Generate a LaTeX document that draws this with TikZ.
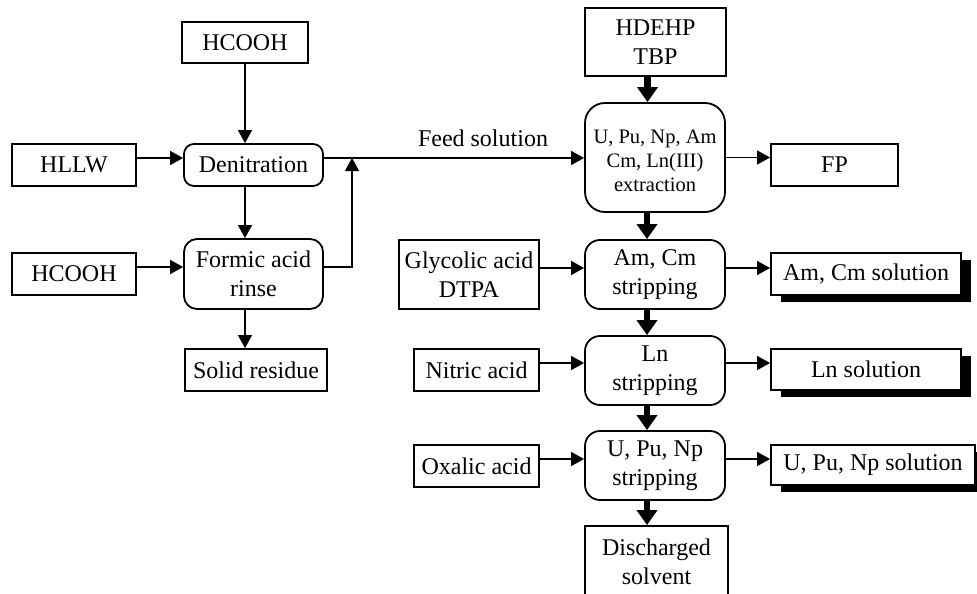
\documentclass[tikz,border=0pt]{standalone}
\usepackage{fontspec}
\setmainfont{Liberation Serif}
\usetikzlibrary{arrows.meta,shadows,calc}
\tikzset{
  box/.style={draw, line width=1.8pt, fill=white, inner sep=0pt, align=center, font=\fontsize{24}{29}\selectfont},
  rbox/.style={box, rounded corners=#1},
  sbox/.style={box, drop shadow={shadow xshift=10pt, shadow yshift=-7pt, fill=black, opacity=1}},
  arr/.style={line width=1.3pt, -{Triangle[width=14pt,length=13pt]}},
  bigarr/.style={line width=6.5pt, -{Triangle[width=20pt,length=15pt]}},
  lbl/.style={inner sep=0pt, font=\fontsize{24}{29}\selectfont}
}
\begin{document}
\begin{tikzpicture}[x=1pt,y=-1pt]
\useasboundingbox (0,0) rectangle (977,594);
\clip (0,0) rectangle (977,594);
% left column
\node[box, minimum width=126pt, minimum height=41pt] (hc1) at (245,42.5) {HCOOH};
\node[box, minimum width=124pt, minimum height=42pt] (hllw) at (74,165) {HLLW};
\node[rbox=10pt, minimum width=139pt, minimum height=42pt] (den) at (253.5,165) {Denitration};
\node[box, minimum width=124pt, minimum height=42pt] (hc2) at (74,274) {HCOOH};
\node[rbox=13pt, minimum width=139pt, minimum height=70pt] (fa) at (253.5,274) {Formic acid\\rinse};
\node[box, minimum width=142pt, minimum height=42pt] (sr) at (256,370) {Solid residue};
\coordinate (junc) at (352,158);
\node[lbl] (feed) at (483,138) {Feed solution};
% right column
\node[box, minimum width=141pt, minimum height=68pt] (hd) at (655.5,42) {HDEHP\\TBP};
\node[rbox=20pt, minimum width=140pt, minimum height=109pt, font=\fontsize{20.5}{24}\selectfont] (ex) at (655,157.5) {\raisebox{-5.5pt}[\height][\depth]{\begin{tabular}{@{}c@{}}U, Pu, Np, Am\\Cm, Ln(III)\\extraction\end{tabular}}};
\node[box, minimum width=127pt, minimum height=42pt] (fp) at (834.5,165) {FP};
\node[box, minimum width=140pt, minimum height=69pt] (gl) at (469,274.5) {Glycolic acid\\DTPA};
\node[rbox=15pt, minimum width=140pt, minimum height=69pt] (am) at (655,274.5) {Am, Cm\\stripping};
\node[sbox, minimum width=190pt, minimum height=42pt] (ams) at (866,274) {Am, Cm solution};
\node[box, minimum width=125pt, minimum height=42pt] (ni) at (476.5,370) {Nitric acid};
\node[rbox=15pt, minimum width=140pt, minimum height=69pt] (ln) at (655,370.5) {Ln\\stripping};
\node[sbox, minimum width=190pt, minimum height=41pt] (lns) at (866,369.5) {Ln solution};
\node[box, minimum width=125pt, minimum height=42pt] (ox) at (476.5,466) {Oxalic acid};
\node[rbox=15pt, minimum width=140pt, minimum height=69pt] (up) at (655,465.5) {U, Pu, Np\\stripping};
\node[sbox, minimum width=204pt, minimum height=40pt] (ups) at (873,465) {U, Pu, Np solution};
\node[box, minimum width=143pt, minimum height=72pt] (ds) at (656.5,562) {Discharged\\solvent};
% left column arrows
\draw[arr] (hc1.south) -- (hc1.south |- den.north);
\draw[arr] ([xshift=-8.5pt]den.south) -- ([xshift=-8.5pt]den.south |- fa.north);
\draw[arr] ([xshift=-8.5pt]fa.south) -- ([xshift=-8.5pt]fa.south |- sr.north);
\draw[arr] ([yshift=7pt]hllw.east) -- ([yshift=7pt]hllw.east -| den.west);
\draw[arr] ([yshift=7pt]hc2.east) -- ([yshift=7pt]hc2.east -| fa.west);
\draw[arr] ([yshift=7pt]den.east) -- ([yshift=7pt]den.east -| ex.west);
\draw[arr] ([yshift=7pt]fa.east) -| (junc);
% right column horizontal arrows
\draw[arr] (ex.east) -- (ex.east -| fp.west);
\draw[arr] ([yshift=6.5pt]gl.east) -- ([yshift=6.5pt]gl.east -| am.west);
\draw[arr] ([yshift=6.5pt]am.east) -- ([yshift=6.5pt]am.east -| ams.west);
\draw[arr] ([yshift=7pt]ni.east) -- ([yshift=7pt]ni.east -| ln.west);
\draw[arr] ([yshift=7.5pt]ln.east) -- ([yshift=7.5pt]ln.east -| lns.west);
\draw[arr] ([yshift=7pt]ox.east) -- ([yshift=7pt]ox.east -| up.west);
\draw[arr] ([yshift=6.5pt]up.east) -- ([yshift=6.5pt]up.east -| ups.west);
% thick arrows
\draw[bigarr] ([xshift=-8pt]hd.south) -- ([xshift=-8pt]hd.south |- ex.north);
\draw[bigarr] ([xshift=-8pt]ex.south) -- ([xshift=-8pt]ex.south |- am.north);
\draw[bigarr] ([xshift=-8pt]am.south) -- ([xshift=-8pt]am.south |- ln.north);
\draw[bigarr] ([xshift=-8pt]ln.south) -- ([xshift=-8pt]ln.south |- up.north);
\draw[bigarr] ([xshift=-8pt]up.south) -- ([xshift=-8pt]up.south |- ds.north);
\end{tikzpicture}
\end{document}
